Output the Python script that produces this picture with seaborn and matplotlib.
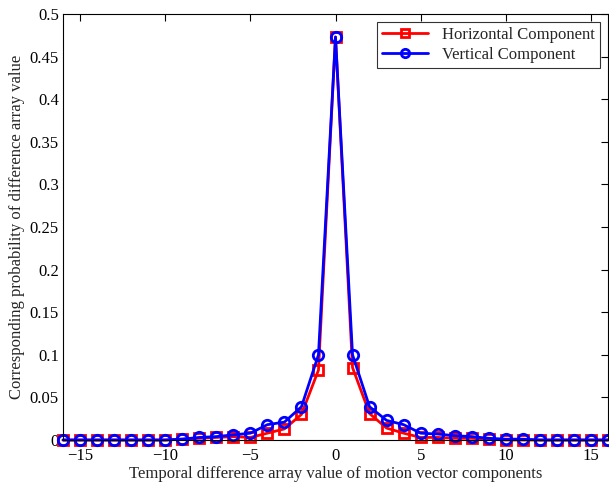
import numpy as np
import pandas as pd
import matplotlib
matplotlib.use('Agg')
import matplotlib.pyplot as plt
import seaborn as sns

# Datos
x_vals = list(range(-16, 17))
horizontal = [0, 0, 0, 0, 0, 0, 0, 0.001, 0.002, 0.003, 0.004, 0.003, 0.008, 0.013, 0.030, 0.082,
              0.473,
              0.085, 0.031, 0.014, 0.008, 0.003, 0.003, 0.002, 0.002, 0.001, 0, 0, 0, 0, 0, 0, 0]
vertical = [0, 0, 0, 0, 0, 0, 0, 0.001, 0.003, 0.004, 0.006, 0.008, 0.018, 0.021, 0.039, 0.100,
            0.473,
            0.100, 0.039, 0.023, 0.018, 0.008, 0.007, 0.005, 0.004, 0.002, 0.001, 0.001, 0, 0, 0, 0, 0]
labels = ['Horizontal Component', 'Vertical Component']

df = pd.DataFrame({
    'x': x_vals * 2,
    'p': horizontal + vertical,
    'serie': [labels[0]] * len(x_vals) + [labels[1]] * len(x_vals),
})

sns.set_style('white')
plt.rcParams['font.family'] = ['Liberation Serif', 'DejaVu Serif']
plt.rcParams['mathtext.fontset'] = 'stix'

fig = plt.figure(figsize=(6.09, 4.83), dpi=100)
ax = fig.add_axes([63 / 609, 43 / 483, 545 / 609, 426 / 483])

sns.lineplot(data=df, x='x', y='p', hue='serie', style='serie',
             palette={labels[0]: '#ff0000', labels[1]: '#0000ff'},
             markers={labels[0]: 's', labels[1]: 'o'}, dashes=False,
             linewidth=2, markersize=7.5, markerfacecolor='none',
             markeredgewidth=2, ax=ax)
for ln in ax.lines:
    ln.set_markeredgecolor(ln.get_color())
    ln.set_markerfacecolor('none')
    ln.set_clip_on(False)

ax.set_xlim(-16, 16)
ax.set_ylim(0, 0.5)
ax.set_xticks([-15, -10, -5, 0, 5, 10, 15])
ax.set_xticklabels(['\u221215', '\u221210', '\u22125', '0', '5', '10', '15'])
ax.set_yticks([0, 0.05, 0.1, 0.15, 0.2, 0.25, 0.3, 0.35, 0.4, 0.45, 0.5])
ax.set_yticklabels(['0', '0.05', '0.1', '0.15', '0.2', '0.25', '0.3', '0.35', '0.4', '0.45', '0.5'])
ax.tick_params(direction='in', length=5, width=0.8, top=True, right=True,
               labelsize=12, colors='black', pad=3)
ax.tick_params(axis='x', pad=6)
for s in ax.spines.values():
    s.set_color('black')
    s.set_linewidth(0.8)

ax.set_xlabel('Temporal difference array value of motion vector components', fontsize=12, labelpad=1)
ax.set_ylabel('Corresponding probability of difference array value', fontsize=12, labelpad=3)

leg = ax.legend(loc='upper right', fontsize=12, frameon=True, fancybox=False,
                edgecolor='black', borderpad=0.3, handlelength=2.8,
                labelspacing=0.2, borderaxespad=0.5)
leg.get_frame().set_linewidth(0.8)
for h in leg.legend_handles:
    h.set_markerfacecolor('none')
    h.set_markeredgewidth(2)
    h.set_markersize(6)

fig.savefig('out.png', dpi=100)
